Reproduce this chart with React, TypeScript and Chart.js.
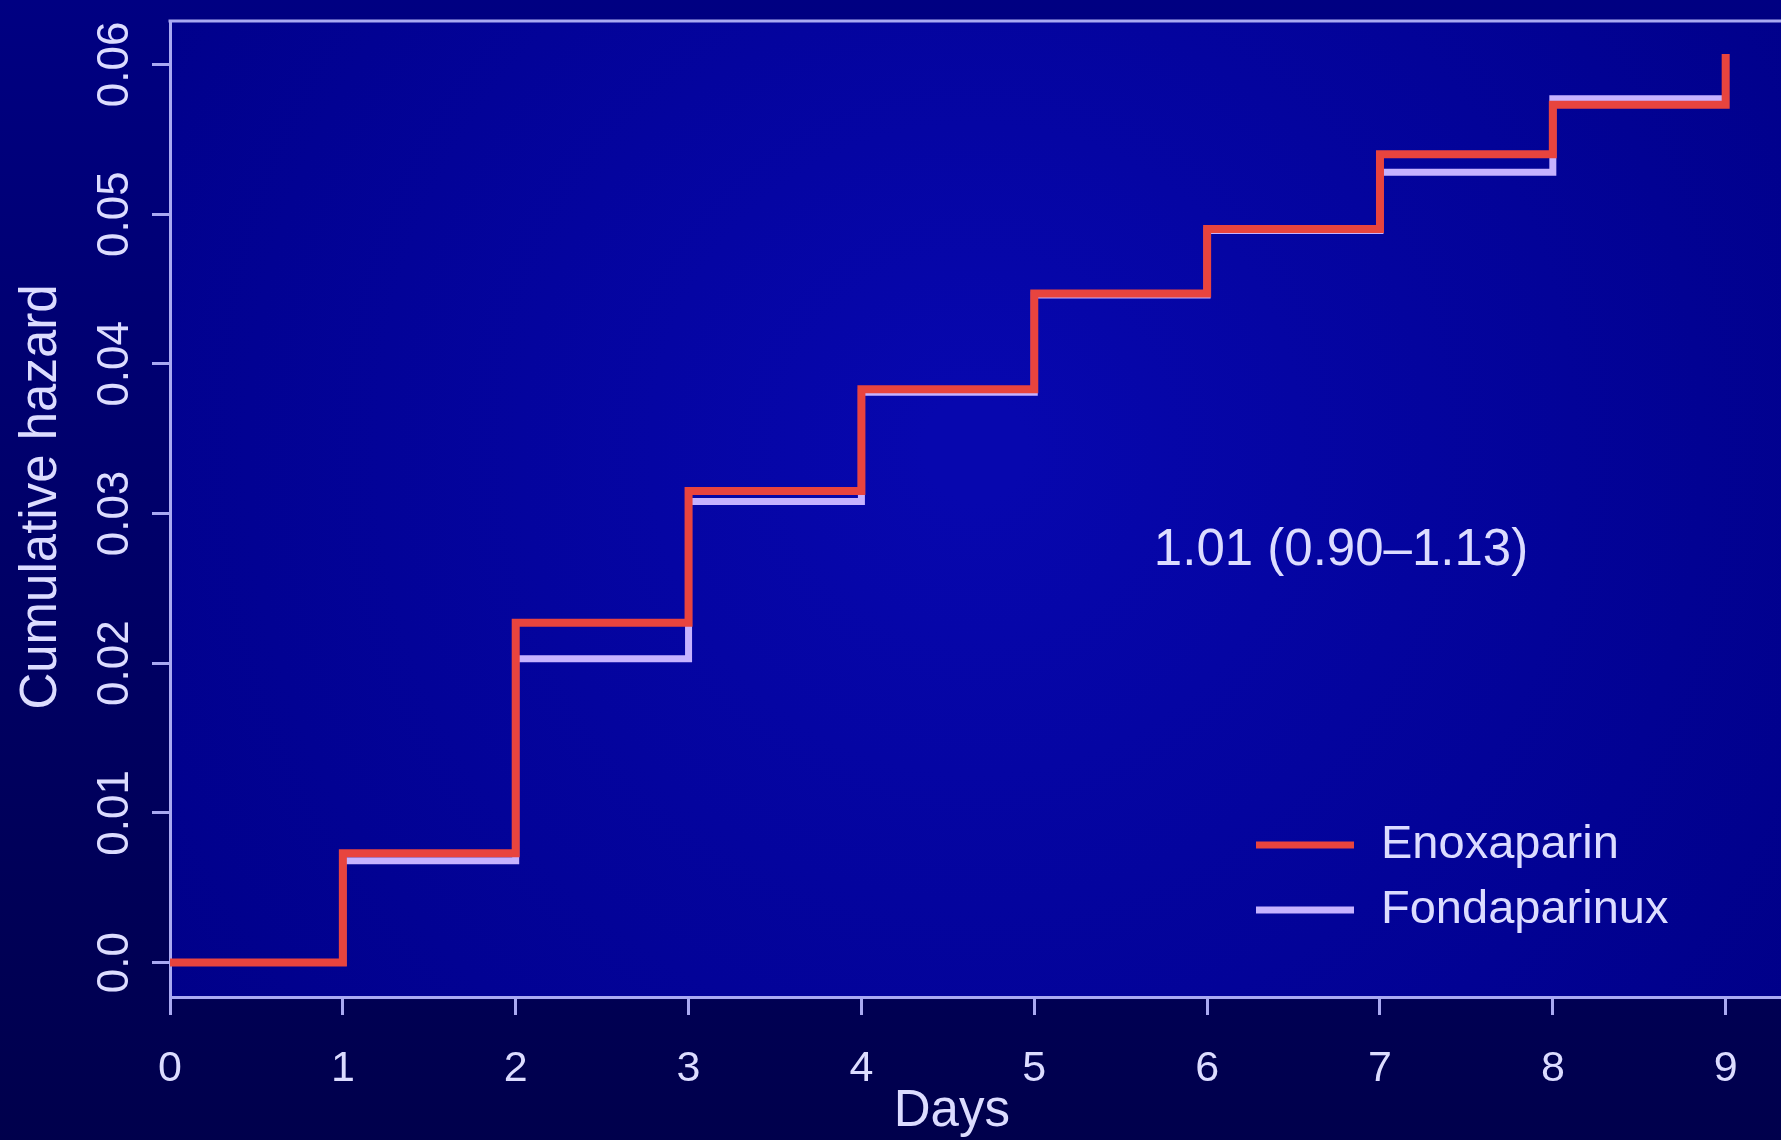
import React, { useEffect, useRef } from 'react';
import { Chart, registerables } from 'chart.js';

Chart.register(...registerables);

// ---- data ----
const days = [0, 1, 2, 3, 4, 5, 6, 7, 8, 9];
const enoxaparin = [0, 0.0073, 0.0227, 0.0315, 0.0383, 0.0447, 0.049, 0.054, 0.0573, 0.0607];
const fondaparinux = [0, 0.0068, 0.0203, 0.0308, 0.0381, 0.0446, 0.0489, 0.0528, 0.0577, 0.0577];
const seriesNames = ['Enoxaparin', 'Fondaparinux'];
const xTicks = [0, 1, 2, 3, 4, 5, 6, 7, 8, 9];
const yTicks = [0, 0.01, 0.02, 0.03, 0.04, 0.05, 0.06];
const yTickLabels = ['0.0', '0.01', '0.02', '0.03', '0.04', '0.05', '0.06'];
const xTitle = 'Days';
const yTitle = 'Cumulative hazard';
const annotationText = '1.01 (0.90\u20131.13)';

const W = 1781;
const H = 1140;
const FONT = '"Liberation Sans", Arial, sans-serif';
const AXIS = '#a9a9f2';
const TEXT = '#dcdcff';
const RED = '#e8443e';
const LAV = '#c6b2ff';
const colors = [RED, LAV];

const decorPlugin = {
  id: 'decor',
  beforeDraw(chart: any) {
    const { ctx, chartArea } = chart;
    ctx.save();
    const g = ctx.createLinearGradient(0, 0, 0, H);
    g.addColorStop(0, '#000082');
    g.addColorStop(1, '#00004c');
    ctx.fillStyle = g;
    ctx.fillRect(0, 0, W, H);
    const cx = (chartArea.left + chartArea.right) / 2;
    const cy = (chartArea.top + chartArea.bottom) / 2 - 60;
    const rg = ctx.createRadialGradient(cx, cy, 50, cx, cy, 1000);
    rg.addColorStop(0, '#0707ae');
    rg.addColorStop(1, '#000088');
    ctx.fillStyle = rg;
    ctx.fillRect(chartArea.left, chartArea.top, chartArea.right - chartArea.left, chartArea.bottom - chartArea.top);
    ctx.restore();
  },
  afterDraw(chart: any) {
    const { ctx, chartArea, scales } = chart;
    const x = scales.x;
    const y = scales.y;
    ctx.save();
    // top border of the box
    ctx.strokeStyle = AXIS;
    ctx.lineWidth = 3;
    ctx.beginPath();
    ctx.moveTo(chartArea.left - 1.5, chartArea.top);
    ctx.lineTo(W, chartArea.top);
    ctx.stroke();

    ctx.fillStyle = TEXT;
    // y tick labels (rotated, R style)
    ctx.font = `44px ${FONT}`;
    ctx.textAlign = 'center';
    ctx.textBaseline = 'middle';
    yTicks.forEach((v, i) => {
      const py = y.getPixelForValue(v);
      ctx.save();
      ctx.translate(116, py);
      ctx.rotate(-Math.PI / 2);
      ctx.fillText(yTickLabels[i], 0, 0);
      ctx.restore();
    });
    // y title
    ctx.font = `51px ${FONT}`;
    ctx.save();
    ctx.translate(42, 497);
    ctx.rotate(-Math.PI / 2);
    ctx.fillText(yTitle, 0, 0);
    ctx.restore();
    // x title
    ctx.fillText(xTitle, x.getPixelForValue(4.5) + 4, 1112);

    // annotation
    ctx.font = `51px ${FONT}`;
    ctx.fillText(annotationText, 1341, 551);

    // legend
    ctx.font = `47px ${FONT}`;
    ctx.textAlign = 'left';
    const legY = [845, 910];
    seriesNames.forEach((name, i) => {
      ctx.strokeStyle = colors[i];
      ctx.lineWidth = 7;
      ctx.beginPath();
      ctx.moveTo(1256, legY[i]);
      ctx.lineTo(1354, legY[i]);
      ctx.stroke();
      ctx.fillStyle = TEXT;
      ctx.fillText(name, 1381, legY[i]);
    });
    ctx.restore();
  },
};

export default function App() {
  const ref = useRef<HTMLCanvasElement | null>(null);
  useEffect(() => {
    if (!ref.current) return;
    const chart = new Chart(ref.current, {
      type: 'line',
      data: {
        datasets: [
          {
            label: seriesNames[0],
            data: days.map((d, i) => ({ x: d, y: enoxaparin[i] })),
            borderColor: RED,
            borderWidth: 8,
            stepped: 'before',
            pointRadius: 0,
            fill: false,
          },
          {
            label: seriesNames[1],
            data: days.map((d, i) => ({ x: d, y: fondaparinux[i] })),
            borderColor: LAV,
            borderWidth: 7,
            stepped: 'before',
            pointRadius: 0,
            fill: false,
          },
        ],
      },
      options: {
        responsive: false,
        animation: false,
        layout: { padding: { top: 21, right: 0, left: 0, bottom: 0 } },
        plugins: { legend: { display: false }, tooltip: { enabled: false } },
        scales: {
          x: {
            type: 'linear',
            min: 0,
            max: 9.32,
            afterBuildTicks: (s: any) => {
              s.ticks = xTicks.map((v) => ({ value: v }));
            },
            afterFit: (s: any) => {
              s.height = H - 997;
            },
            grid: {
              drawOnChartArea: false,
              drawTicks: true,
              tickLength: 18,
              tickColor: AXIS,
              tickWidth: 3,
            },
            border: { display: true, color: AXIS, width: 3 },
            ticks: {
              color: TEXT,
              font: { family: FONT, size: 43 },
              padding: 28,
              maxRotation: 0,
              autoSkip: false,
              callback: (v: any) => String(v),
            },
          },
          y: {
            type: 'linear',
            min: -0.0023,
            max: 0.0629,
            afterBuildTicks: (s: any) => {
              s.ticks = yTicks.map((v) => ({ value: v }));
            },
            afterFit: (s: any) => {
              s.width = 170;
            },
            grid: {
              drawOnChartArea: false,
              drawTicks: true,
              tickLength: 18,
              tickColor: AXIS,
              tickWidth: 3,
            },
            border: { display: true, color: AXIS, width: 3 },
            ticks: { display: false },
          },
        },
      },
      plugins: [decorPlugin],
    });
    return () => chart.destroy();
  }, []);
  return (
    <div style={{ position: 'fixed', left: 0, top: 0, width: W, height: H, overflow: 'hidden' }}>
      <canvas ref={ref} width={W} height={H} style={{ width: W, height: H, display: 'block' }} />
    </div>
  );
}
